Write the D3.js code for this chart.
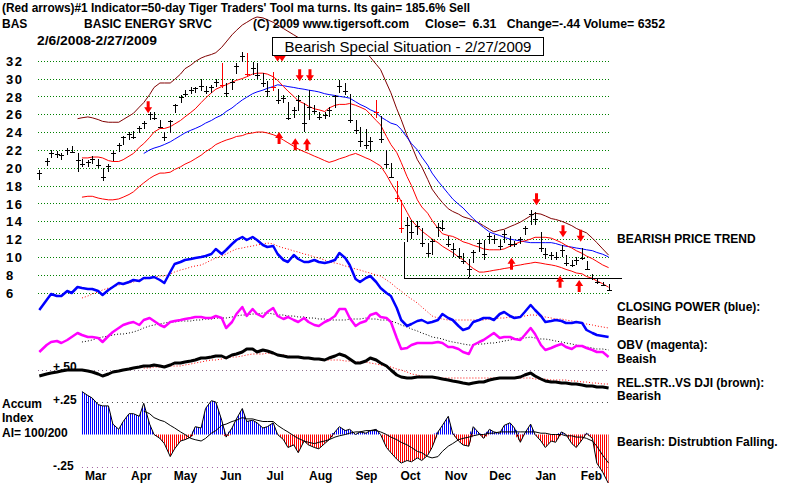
<!DOCTYPE html>
<html>
<head>
<meta charset="utf-8">
<script src="https://cdn.jsdelivr.net/npm/d3@7"></script>
<style>
  body { margin: 0; background: #fff; }
  svg text { font-family: "Liberation Sans", Arial, sans-serif; font-weight: bold; font-size: 12px; fill: #000; }
</style>
</head>
<body>
<div id="chart"></div>
<script>
// sample dates (two per week), one row per month
const sampleDays = [
  ["2008-02", [6, 11, 14, 18, 21, 25, 28]],
  ["2008-03", [3, 6, 10, 13, 17, 20, 24, 27, 31]],
  ["2008-04", [3, 7, 10, 14, 17, 21, 24, 28]],
  ["2008-05", [1, 5, 8, 12, 15, 19, 22, 26, 29]],
  ["2008-06", [2, 5, 9, 12, 16, 19, 23, 26, 30]],
  ["2008-07", [3, 7, 10, 14, 17, 21, 24, 28, 31]],
  ["2008-08", [4, 7, 11, 14, 18, 21, 25, 28]],
  ["2008-09", [1, 4, 8, 11, 15, 18, 22, 25, 29]],
  ["2008-10", [2, 6, 9, 13, 16, 20, 23, 27, 30]],
  ["2008-11", [3, 6, 10, 13, 17, 20, 24, 27]],
  ["2008-12", [1, 4, 8, 11, 15, 18, 22, 25, 29]],
  ["2009-01", [1, 5, 8, 12, 15, 19, 22, 26, 29]],
  ["2009-02", [2, 5, 9, 12, 16, 19, 23, 27]]
];

const high = [
  19.8, 21.1, 22.0, 21.9, 21.7, 22.2, 22.4,
  21.6, 21.0, 20.9, 21.3, 21.0, 20.0, 20.4, 21.9, 22.8,
  23.6, 24.0, 24.1, 24.7, 25.2, 26.3, 26.2, 25.4,
  24.0, 25.4, 27.2, 28.2, 28.7, 29.0, 29.1, 30.0, 29.2,
  29.3, 29.9, 31.7, 29.5, 29.9, 31.7, 33.0, 32.9, 31.8,
  31.7, 30.6, 29.7, 30.7, 28.8, 28.2, 27.4, 26.8, 28.2,
  27.3, 28.7, 27.0, 26.2, 26.2, 26.8, 28.2, 29.8,
  29.5, 28.3, 25.4, 24.6, 24.3, 23.5, 27.6, 25.8, 22.0,
  20.5, 18.5, 16.4, 14.5, 14.1, 14.0, 13.2, 11.6, 12.0,
  13.8, 14.1, 12.4, 11.6, 11.0, 10.4, 9.8, 10.8,
  11.9, 11.9, 12.7, 12.5, 11.9, 13.0, 12.4, 11.8, 12.2,
  13.5, 15.3, 15.0, 12.8, 11.0, 10.6, 10.5, 11.3, 10.2,
  9.6, 10.0, 11.0, 9.5, 8.1, 7.6, 7.2, 7.0
];
const low = [
  18.6, 20.2, 21.1, 21.1, 20.9, 21.4, 21.6,
  19.5, 20.1, 20.1, 20.4, 20.0, 18.5, 19.5, 20.8, 21.8,
  22.6, 23.1, 23.2, 23.9, 24.3, 25.3, 25.4, 24.4,
  23.0, 23.9, 26.1, 27.3, 27.9, 28.3, 28.4, 28.6, 28.3,
  28.4, 29.0, 28.9, 27.9, 28.7, 30.5, 31.8, 30.2, 30.4,
  30.0, 29.0, 27.9, 28.6, 27.2, 27.3, 25.3, 25.6, 26.4,
  24.0, 25.3, 26.0, 25.3, 25.5, 25.7, 26.7, 28.4,
  28.1, 25.0, 23.8, 22.3, 22.1, 21.8, 25.6, 22.8, 20.0,
  18.8, 16.2, 12.7, 11.7, 12.0, 12.5, 11.1, 10.0, 10.2,
  12.2, 12.9, 11.1, 10.0, 9.8, 9.2, 7.7, 9.3,
  10.6, 9.7, 11.4, 11.5, 10.8, 11.6, 11.1, 11.1, 11.5,
  12.5, 13.6, 13.6, 10.6, 9.8, 9.7, 9.7, 10.0, 9.0,
  8.9, 9.1, 9.6, 8.5, 7.4, 7.0, 6.8, 6.3
];
const close = [
  19.4, 20.8, 21.7, 21.5, 21.4, 22.0, 21.8,
  20.9, 20.4, 20.6, 21.0, 20.3, 19.0, 20.2, 21.6, 22.5,
  23.4, 23.8, 23.5, 24.4, 25.0, 26.0, 25.6, 24.6,
  23.4, 25.2, 27.0, 27.9, 28.3, 28.7, 28.9, 29.2, 28.6,
  29.0, 29.6, 29.3, 28.4, 29.6, 31.4, 32.5, 30.5, 31.2,
  30.4, 29.5, 28.6, 29.0, 27.6, 27.8, 25.6, 26.5, 27.6,
  25.0, 26.8, 26.4, 25.7, 25.9, 26.5, 28.0, 29.2,
  28.6, 25.4, 24.2, 23.0, 22.5, 23.0, 26.2, 23.2, 20.4,
  19.0, 16.6, 13.2, 13.6, 12.8, 13.5, 11.6, 10.4, 11.8,
  13.3, 13.2, 11.4, 10.9, 10.1, 9.5, 8.6, 10.5,
  11.6, 10.3, 12.3, 12.0, 11.2, 12.6, 11.5, 11.4, 12.0,
  13.2, 14.8, 14.2, 11.0, 10.3, 10.2, 10.0, 10.8, 9.3,
  9.1, 9.6, 9.9, 8.7, 7.6, 7.2, 6.9, 6.31
];
const redBars = ["2008-06-09", "2008-06-26", "2008-07-14", "2008-09-22", "2008-10-06", "2008-10-09"];

const N7 = [null, null, null, null, null, null, null];
// bands and moving average on the price chart
const bandTop = [
  ...N7,
  25.5, 25.6, 25.7, 25.6, 25.4, 25.2, 25.1, 25.1, 25.1,
  25.4, 25.8, 26.1, 26.8, 27.3, 28.2, 29.0, 29.5,
  29.5, 29.5, 29.9, 30.5, 31.1, 31.5, 31.9, 32.3, 32.5,
  32.7, 32.9, 33.5, 34.1, 34.9, 35.4, 36.0, 36.3, 36.7,
  36.9, 36.8, 36.6, 36.3, 36.0, 35.6, 35.3, 34.9, 34.6,
  34.4, 34.4, 34.3, 34.3, 34.4, 34.5, 34.5, 34.6,
  34.6, 34.6, 34.1, 33.6, 33.0, 32.4, 31.6, 31.0, 29.5,
  28.4, 26.6, 25.4, 23.6, 22.5, 20.9, 20.1, 18.7, 17.6,
  16.7, 16.1, 15.4, 15.1, 14.8, 14.5, 14.3, 14.1,
  13.8, 13.5, 13.1, 12.8, 13.0, 13.1, 13.4, 13.6, 13.9,
  14.2, 14.6, 14.9, 14.8, 14.6, 14.3, 14.2, 14.0, 13.8,
  13.5, 13.2, 12.9, 12.7, 12.1, 11.6, 10.9, 10.2
];
const bandUp = [
  ...N7,
  null, 21.1, 21.1, 21.2, 21.2, 21.1, 20.8, 20.7, 20.7,
  20.9, 21.3, 21.6, 22.3, 22.7, 23.4, 24.0, 24.4,
  24.4, 24.6, 24.9, 25.3, 25.7, 26.2, 26.6, 27.3, 27.8,
  28.4, 28.8, 29.1, 29.3, 29.6, 29.8, 30.0, 30.2, 30.5,
  30.6, 30.6, 30.5, 30.2, 29.8, 29.1, 28.6, 28.0, 27.5,
  27.2, 26.9, 26.6, 26.5, 26.3, 26.7, 27.0, 27.1,
  27.1, 27.2, 27.0, 26.8, 26.5, 26.0, 25.3, 24.8, 23.5,
  22.6, 21.7, 20.6, 19.0, 18.0, 16.4, 15.6, 14.9, 14.1,
  13.2, 12.6, 12.4, 12.3, 12.0, 11.7, 11.5, 11.3,
  11.1, 10.9, 10.8, 10.8, 10.8, 10.9, 11.2, 11.4, 11.7,
  11.8, 12.0, 12.2, 12.2, 12.2, 12.1, 11.9, 11.6, 11.3,
  11.0, 10.7, 10.4, 10.1, 9.8, 9.5, 9.1, 8.8
];
const ma50 = [
  ...N7,
  null, null, null, null, null, null, null, null, null,
  null, null, null, null, 21.6, 22.0, 22.2, 22.4,
  22.6, 22.9, 23.2, 23.6, 23.9, 24.2, 24.4, 24.7, 25.0,
  25.3, 25.6, 25.9, 26.3, 26.7, 27.1, 27.6, 27.9, 28.3,
  28.5, 28.7, 28.9, 29.1, 29.3, 29.2, 29.1, 29.0, 28.9,
  28.8, 28.7, 28.6, 28.5, 28.3, 28.2, 28.1, 28.0,
  27.9, 27.8, 27.4, 27.1, 26.8, 26.5, 26.2, 25.7, 25.3,
  25.0, 24.8, 24.3, 23.4, 22.7, 22.0, 21.2, 20.3, 19.4,
  18.5, 17.9, 17.1, 16.5, 15.9, 15.5, 14.8, 14.3,
  13.7, 13.3, 12.8, 12.6, 12.4, 12.2, 12.0, 11.9, 11.8,
  11.7, 11.6, 11.6, 11.6, 11.6, 11.6, 11.5, 11.3, 11.2,
  11.1, 11.0, 10.9, 10.8, 10.7, 10.5, 10.3, 10.0
];
const bandLow = [
  ...N7,
  null, 16.7, 16.8, 16.8, 16.6, 16.5, 16.4, 16.4, 16.5,
  16.7, 17.0, 17.3, 17.9, 18.3, 18.8, 19.1, 19.4,
  19.4, 19.5, 19.8, 20.1, 20.4, 20.7, 21.0, 21.4, 21.8,
  22.2, 22.6, 22.9, 23.1, 23.3, 23.5, 23.6, 23.8, 23.9,
  24.0, 24.0, 23.9, 23.7, 23.5, 23.1, 22.8, 22.4, 22.1,
  21.8, 21.6, 21.3, 21.1, 20.8, 20.6, 20.8, 21.0,
  21.2, 21.4, 21.6, 21.4, 21.1, 20.9, 20.5, 20.2, 19.2,
  18.3, 17.2, 16.2, 15.0, 14.1, 13.4, 12.9, 12.4, 12.0,
  11.6, 11.2, 10.8, 10.5, 10.0, 9.7, 9.1, 8.7,
  8.3, 8.3, 8.4, 8.5, 8.6, 8.7, 8.8, 9.0, 9.1,
  9.2, 9.3, 9.4, 9.3, 9.2, 9.1, 9.0, 8.8, 8.6,
  8.4, 8.2, 8.1, 7.8, 7.6, 7.3, 7.0, 6.6
];

// indicators drawn under the price (units of the indicator panel)
const closingPower = [
  90, 100, 106, 104, 104, 109, 107,
  113, 112, 111, 111, 109, 105, 110, 113, 117,
  116, 118, 120, 119, 122, 122, 123, 120,
  117, 128, 136, 138, 140, 141, 142, 143, 144,
  146, 151, 146, 150, 156, 160, 163, 160, 163,
  160, 155, 153, 154, 146, 140, 138, 145, 141,
  138, 138, 140, 138, 137, 138, 140, 147,
  142, 135, 121, 118, 122, 124, 118, 112, 107,
  104, 92, 80, 74, 76, 79, 80, 77, 78,
  80, 86, 82, 80, 74, 70, 72, 78,
  80, 82, 82, 80, 86, 88, 84, 82, 83,
  88, 95, 90, 84, 78, 79, 80, 79, 77,
  77, 78, 77, 70, 67, 65, 64, 63
];
const closingPowerMa = [
  ...N7,
  null, 102, 104, 106, 108, 110, 112, 113, 115,
  116, 117, 118, 120, 121, 122, 123, 124,
  124, 126, 128, 130, 131, 133, 134, 135, 137,
  140, 142, 144, 146, 149, 151, 152, 153, 154,
  155, 156, 157, 156, 154, 152, 151, 149, 148,
  146, 145, 143, 142, 140, 138, 137, 136,
  134, 133, 131, 130, 128, 127, 125, 124, 120,
  117, 112, 109, 104, 101, 97, 93, 88, 84,
  82, 81, 80, 80, 80, 80, 80, 80,
  80, 80, 81, 81, 82, 82, 83, 83, 83,
  84, 85, 85, 84, 83, 82, 81, 81, 80,
  79, 78, 77, 76, 75, 74, 73, 72
];
const obv = [
  48, 55, 58, 59, 57, 60, 63,
  67, 65, 63, 63, 62, 58, 64, 68, 72,
  75, 77, 78, 75, 80, 82, 79, 75,
  73, 78, 79, 80, 81, 82, 83, 83, 82,
  82, 84, 82, 72, 78, 86, 93, 84, 91,
  86, 83, 88, 92, 84, 81, 83, 80, 78,
  82, 78, 75, 74, 78, 80, 84, 91,
  91, 82, 74, 77, 79, 85, 87, 83, 82,
  78, 62, 51, 52, 55, 57, 57, 57, 57,
  58, 57, 53, 53, 51, 48, 46, 55,
  58, 60, 64, 67, 62, 63, 63, 61, 60,
  65, 72, 66, 55, 50, 52, 54, 56, 53,
  51, 54, 54, 52, 50, 48, 48, 43
];
const obvMa = [
  ...N7,
  null, 58, 59, 60, 62, 63, 64, 65, 66,
  66, 67, 68, 70, 72, 74, 75, 76,
  77, 78, 78, 79, 79, 79, 80, 80, 81,
  81, 82, 82, 82, 83, 84, 85, 85, 86,
  86, 87, 87, 86, 85, 85, 84, 84, 83,
  83, 82, 82, 81, 81, 80, 80, 80,
  80, 81, 81, 81, 82, 81, 81, 80, 80,
  79, 77, 75, 73, 71, 69, 67, 65, 63,
  62, 61, 59, 58, 57, 56, 55, 55,
  56, 56, 57, 57, 58, 59, 60, 61, 62,
  62, 63, 62, 61, 61, 60, 59, 58, 57,
  56, 55, 54, 53, 52, 51, 51, 50
];
const relStr = [
  24, 26, 27, 28, 29, 30, 30,
  30, 30, 29, 28, 26, 24, 26, 28, 29,
  30, 31, 32, 33, 34, 34, 35, 34,
  33, 35, 37, 37, 38, 39, 40, 42, 42,
  43, 44, 44, 42, 45, 46, 48, 51, 51,
  48, 50, 49, 47, 45, 44, 43, 43, 43,
  42, 42, 41, 41, 40, 42, 44, 46,
  44, 41, 37, 37, 39, 42, 40, 37, 34,
  30, 25, 23, 22, 22, 23, 23, 23, 23,
  22, 21, 20, 19, 18, 17, 16, 17,
  18, 18, 20, 21, 22, 22, 22, 22, 23,
  25, 27, 24, 21, 19, 18, 18, 17, 17,
  16, 16, 15, 14, 14, 13, 13, 12
];
const relStrMa = [
  ...N7,
  null, null, null, null, null, null, null, null, null,
  null, null, null, null, 32, 32, 33, 33,
  33, 34, 34, 34, 35, 36, 37, 38, 39,
  40, 40, 41, 42, 43, 43, 44, 45, 46,
  46, 46, 47, 46, 45, 45, 44, 43, 43,
  42, 42, 41, 41, 40, 40, 40, 40,
  39, 39, 38, 38, 38, 37, 36, 35, 34,
  33, 31, 30, 28, 26, 25, 24, 23, 23,
  22, 22, 22, 22, 22, 22, 22, 22,
  22, 22, 22, 22, 22, 22, 22, 22, 22,
  22, 22, 21, 21, 21, 20, 20, 20, 20,
  19, 19, 18, 18, 17, 17, 16, 16
];
const relStrRef = 30;

// accumulation index and its moving average
const accum = [
  ...N7,
  null, 0.33, 0.30, 0.28, 0.23, 0.22, 0.22, 0.08, 0.04,
  0.10, 0.16, 0.16, 0.14, 0.24, 0.08, 0.00, -0.03,
  -0.07, -0.17, -0.11, -0.05, -0.04, -0.02, 0.06, 0.05, 0.20,
  0.26, 0.25, 0.11, -0.02, 0.05, 0.12, 0.20, 0.10, 0.11,
  0.09, 0.05, 0.06, 0.09, 0.00, -0.04, -0.10, -0.08, -0.14,
  -0.05, -0.08, -0.10, -0.11, -0.07, -0.04, 0.02, 0.06,
  0.03, 0.04, 0.00, 0.02, 0.01, 0.03, 0.04, 0.00, -0.10,
  -0.14, -0.19, -0.22, -0.20, -0.21, -0.18, -0.20, -0.16, -0.10,
  0.02, 0.07, 0.14, 0.01, -0.05, -0.08, -0.09, 0.06,
  0.01, -0.03, 0.04, 0.02, 0.01, 0.07, 0.09, 0.05, -0.06,
  0.01, 0.08, 0.00, -0.05, -0.10, -0.05, -0.06, 0.02, 0.00,
  -0.07, -0.10, -0.04, 0.01, -0.03, -0.22, -0.29, -0.38
];
const accumMa = [
  ...N7,
  null, null, null, null, null, null, null, null, null,
  null, null, null, null, 0.18, 0.16, 0.13, 0.11,
  0.10, 0.07, 0.05, 0.02, 0.00, -0.03, -0.04, -0.05, -0.03,
  0.01, 0.03, 0.07, 0.08, 0.10, 0.11, 0.13, 0.12, 0.12,
  0.11, 0.10, 0.10, 0.10, 0.07, 0.04, 0.02, -0.01, -0.03,
  -0.05, -0.06, -0.07, -0.06, -0.05, -0.04, -0.02, -0.01,
  0.00, 0.01, 0.02, 0.02, 0.03, 0.03, 0.03, 0.02, 0.00,
  -0.02, -0.04, -0.06, -0.08, -0.10, -0.13, -0.14, -0.17, -0.18,
  -0.17, -0.13, -0.09, -0.07, -0.04, -0.03, -0.02, -0.01,
  0.00, 0.00, 0.01, 0.01, 0.02, 0.02, 0.02, 0.02, 0.02,
  0.02, 0.02, 0.02, 0.01, 0.01, 0.00, 0.00, 0.00, -0.01,
  -0.01, -0.02, -0.02, -0.03, -0.05, -0.09, -0.16, -0.22
];

const priceTicks = [6, 8, 10, 12, 14, 16, 18, 20, 22, 24, 26, 28, 30, 32];
const monthTicks = ["2008-03-15", "2008-04-15", "2008-05-15", "2008-06-15", "2008-07-15", "2008-08-15",
  "2008-09-15", "2008-10-15", "2008-11-15", "2008-12-15", "2009-01-15", "2009-02-15"];

// signal arrows: [date, price at the arrow tip]
const sellArrows = [["2008-04-20", 26.1], ["2008-07-17", 31.9], ["2008-07-20", 31.9], ["2008-08-01", 29.7],
  ["2008-08-08", 29.7], ["2009-01-09", 15.8], ["2009-01-27", 12.2], ["2009-02-08", 11.7]];
const buyArrows = [["2008-07-18", 24.0], ["2008-07-29", 23.3], ["2008-08-06", 23.3], ["2008-12-23", 9.9],
  ["2009-01-25", 7.9], ["2009-02-07", 7.4]];

// support line under the late-2008 lows
const supportLevel = 7.6;
const supportSpan = ["2008-10-11", "2009-03-08"];
const supportTouches = [["2008-10-11", 11.7], ["2008-11-24", 7.7]];

const parse = d3.timeParse("%Y-%m-%d");
const fmt = d3.timeFormat("%Y-%m-%d");

class TigerChart {
  constructor(options) {
    let o = {
      el: "#chart",
      width: 800,
      height: 483,
      xRange: [39.3, 608.6],
      priceRange: [292.6, 60.7],
      indRange: [400, 230],
      aiRange: [467, 402],
      gridX: [38, 610]
    };
    Object.assign(this, o, options);
    this._init();
  }

  _init() {
    this.svg = d3.select(this.el).append("svg")
      .attr("width", this.width).attr("height", this.height);
    this.svg.append("rect").attr("width", this.width).attr("height", this.height).attr("fill", "#fff");

    const dates = sampleDays.flatMap(([m, days]) => days.map(d => parse(`${m}-${String(d).padStart(2, "0")}`)));
    this.rows = dates.map((date, i) => ({
      date, high: high[i], low: low[i], close: close[i],
      red: redBars.includes(fmt(date))
    }));
    this.dates = dates;

    this._createScales();
    this._createPatterns();
    this._createGrid();
    this._createAxes();
    this._createPriceLines();
    this._createBars();
    this._createArrows();
    this._createIndicators();
    this._createAccum();
    this._createTexts();
  }

  _createScales() {
    this.x = d3.scaleTime().domain([this.dates[0], this.dates[this.dates.length - 1]]).range(this.xRange);
    this.y = d3.scaleLinear().domain([6, 32]).range(this.priceRange);
    this.yInd = d3.scaleLinear().domain([0, 170]).range(this.indRange);
    this.yAi = d3.scaleLinear().domain([-0.25, 0.25]).range(this.aiRange);
  }

  _createPatterns() {
    const defs = this.svg.append("defs");
    [["stripeBlue", "#0000ff"], ["stripeRed", "#ff0000"]].forEach(([id, c]) => {
      const p = defs.append("pattern").attr("id", id)
        .attr("patternUnits", "userSpaceOnUse").attr("width", 2).attr("height", 8);
      p.append("rect").attr("width", 1).attr("height", 8).attr("fill", c);
    });
  }

  _createGrid() {
    this.svg.append("g").attr("class", "grid")
      .selectAll("line").data(priceTicks).enter().append("line")
      .attr("x1", this.gridX[0]).attr("x2", this.gridX[1])
      .attr("y1", d => Math.round(this.y(d)) + 0.5).attr("y2", d => Math.round(this.y(d)) + 0.5)
      .attr("stroke", "#008000").attr("stroke-dasharray", "1,2");
  }

  _createAxes() {
    const yAxis = this.svg.append("g").call(d3.axisLeft(this.y).tickValues(priceTicks).tickSize(0));
    yAxis.select(".domain").remove();
    yAxis.selectAll("text")
      .attr("x", 6).attr("dy", "0.36em").attr("text-anchor", "start")
      .style("font-size", "13px").style("letter-spacing", "1.5px");

    const xAxis = this.svg.append("g").attr("transform", "translate(0,468)")
      .call(d3.axisBottom(this.x).tickValues(monthTicks.map(parse)).tickFormat(d3.timeFormat("%b")).tickSize(0));
    xAxis.select(".domain").remove();
    xAxis.selectAll("text").style("font-size", "12px");
  }

  _series(values) {
    return this.dates.map((d, i) => [d, values[i]]);
  }

  _line(values, yScale, stroke, width, dash) {
    const line = d3.line()
      .defined(d => d[1] != null)
      .x(d => this.x(d[0]))
      .y(d => yScale(d[1]));
    return this.svg.append("path")
      .datum(this._series(values))
      .attr("d", line)
      .attr("fill", "none")
      .attr("stroke", stroke)
      .attr("stroke-width", width)
      .attr("stroke-dasharray", dash || null)
      .attr("stroke-linejoin", "round");
  }

  _createPriceLines() {
    this._line(bandTop, this.y, "#800000", 1);
    this._line(ma50, this.y, "#0000ff", 1);
    this._line(bandUp, this.y, "#ff0000", 1);
    this._line(bandLow, this.y, "#ff0000", 1);

    // support line
    const g = this.svg.append("g").attr("stroke", "#000").attr("stroke-width", 1).attr("shape-rendering", "crispEdges");
    g.append("line")
      .attr("x1", this.x(parse(supportSpan[0]))).attr("x2", this.x(parse(supportSpan[1])))
      .attr("y1", this.y(supportLevel)).attr("y2", this.y(supportLevel));
    g.selectAll(".touch").data(supportTouches).enter().append("line")
      .attr("x1", d => this.x(parse(d[0]))).attr("x2", d => this.x(parse(d[0])))
      .attr("y1", d => this.y(d[1])).attr("y2", this.y(supportLevel));
  }

  _createBars() {
    const bars = this.svg.append("g").attr("shape-rendering", "crispEdges")
      .selectAll(".bar").data(this.rows).enter().append("g").attr("class", "bar")
      .attr("stroke", d => d.red ? "#ff0000" : "#000").attr("stroke-width", 1);
    bars.append("line")
      .attr("x1", d => Math.round(this.x(d.date)) + 0.5).attr("x2", d => Math.round(this.x(d.date)) + 0.5)
      .attr("y1", d => this.y(d.high)).attr("y2", d => this.y(d.low));
    bars.append("line")
      .attr("x1", d => Math.round(this.x(d.date)) - 2).attr("x2", d => Math.round(this.x(d.date)) + 3)
      .attr("y1", d => Math.round(this.y(d.close)) + 0.5).attr("y2", d => Math.round(this.y(d.close)) + 0.5);
  }

  _createArrows() {
    const down = "M-1.5,-12 h3 v6 h2.5 L0,0 L-4,-6 h2.5 Z";
    const up = "M-1.5,12 h3 v-6 h2.5 L0,0 L-4,6 h2.5 Z";
    const g = this.svg.append("g").attr("fill", "#ff0000");
    g.selectAll(".sell").data(sellArrows).enter().append("path")
      .attr("d", down)
      .attr("transform", d => `translate(${this.x(parse(d[0]))},${this.y(d[1])})`);
    g.selectAll(".buy").data(buyArrows).enter().append("path")
      .attr("d", up)
      .attr("transform", d => `translate(${this.x(parse(d[0]))},${this.y(d[1])})`);
  }

  _createIndicators() {
    // +.50 reference of the relative strength line
    const refY = Math.round(this.yInd(relStrRef)) + 0.5;
    this.svg.append("line").attr("x1", this.gridX[0]).attr("x2", this.xRange[1])
      .attr("y1", refY).attr("y2", refY)
      .attr("stroke", "#907090").attr("stroke-dasharray", "1,3");

    this._line(closingPowerMa, this.yInd, "#ff0000", 1, "1,2");
    this._line(obvMa, this.yInd, "#000", 1, "1,2");
    this._line(relStrMa, this.yInd, "#ff0000", 1, "1,2");
    this._line(closingPower, this.yInd, "#0000ff", 2.5);
    this._line(obv, this.yInd, "#ff00ff", 2.5);
    this._line(relStr, this.yInd, "#000", 3);
  }

  _createAccum() {
    const first = this.dates[accum.findIndex(v => v != null)];
    [0.25, -0.25].forEach(v => {
      const yy = Math.round(this.yAi(v)) + 0.5;
      this.svg.append("line").attr("x1", this.x(first)).attr("x2", this.xRange[1])
        .attr("y1", yy).attr("y2", yy)
        .attr("stroke", v > 0 ? "#404040" : "#a060a0").attr("stroke-dasharray", "1,4");
    });

    const data = this._series(accum);
    const zero = this.yAi(0);
    const area = sign => d3.area()
      .defined(d => d[1] != null)
      .x(d => this.x(d[0]))
      .y0(zero)
      .y1(d => this.yAi(sign > 0 ? Math.max(d[1], 0) : Math.min(d[1], 0)));
    this.svg.append("path").datum(data).attr("d", area(1)).attr("fill", "url(#stripeBlue)");
    this.svg.append("path").datum(data).attr("d", area(-1)).attr("fill", "url(#stripeRed)");
    this._line(accum, this.yAi, "#000", 1);
    this._line(accumMa, this.yAi, "#000", 1);
  }

  _text(x, y, str, opts = {}) {
    const t = this.svg.append("text").attr("x", x).attr("y", y).text(str)
      .style("white-space", "pre");
    if (opts.len) t.attr("textLength", opts.len).attr("lengthAdjust", "spacingAndGlyphs");
    if (opts.size) t.style("font-size", opts.size + "px");
    if (opts.weight) t.style("font-weight", opts.weight);
    if (opts.anchor) t.attr("text-anchor", opts.anchor);
    return t;
  }

  _createTexts() {
    // title box
    this.svg.append("rect").attr("x", 272.5).attr("y", 37.5).attr("width", 271).attr("height", 18)
      .attr("fill", "#fff").attr("stroke", "#000").attr("stroke-width", 1);
    this._text(408, 52, "Bearish Special Situation - 2/27/2009", { size: 15, weight: "normal", anchor: "middle" });

    this._text(2, 12, "(Red arrows)#1 Indicator=50-day Tiger Traders' Tool ma turns. Its gain= 185.6% Sell", { len: 468 });
    this._text(2, 28, "BAS");
    this._text(84, 28, "BASIC ENERGY SRVC", { len: 128 });
    this._text(253, 28, "(C) 2009 www.tigersoft.com", { len: 156 });
    this._text(425, 28, "Close=  6.31   Change=-.44 Volume= 6352", { len: 240 });
    this._text(37, 45, "2/6/2008-2/27/2009", { len: 120 });

    const right = [
      [243, "BEARISH PRICE TREND"],
      [311, "CLOSING POWER (blue):"],
      [325, "Bearish"],
      [349, "OBV (magenta):"],
      [363, "Beaish"],
      [387, "REL.STR..VS DJI (brown):"],
      [400, "Bearish"],
      [446, "Bearish: Distrubtion Falling."]
    ];
    right.forEach(([y, s]) => this._text(617, y, s));

    this._text(2, 408, "Accum");
    this._text(2, 422, "Index");
    this._text(2, 437, "AI= 100/200");
    this._text(53, 371, "+.50");
    this._text(53, 404, "+.25");
    this._text(53, 470, "-.25");
  }
}

new TigerChart({ el: "#chart" });
</script>
</body>
</html>
